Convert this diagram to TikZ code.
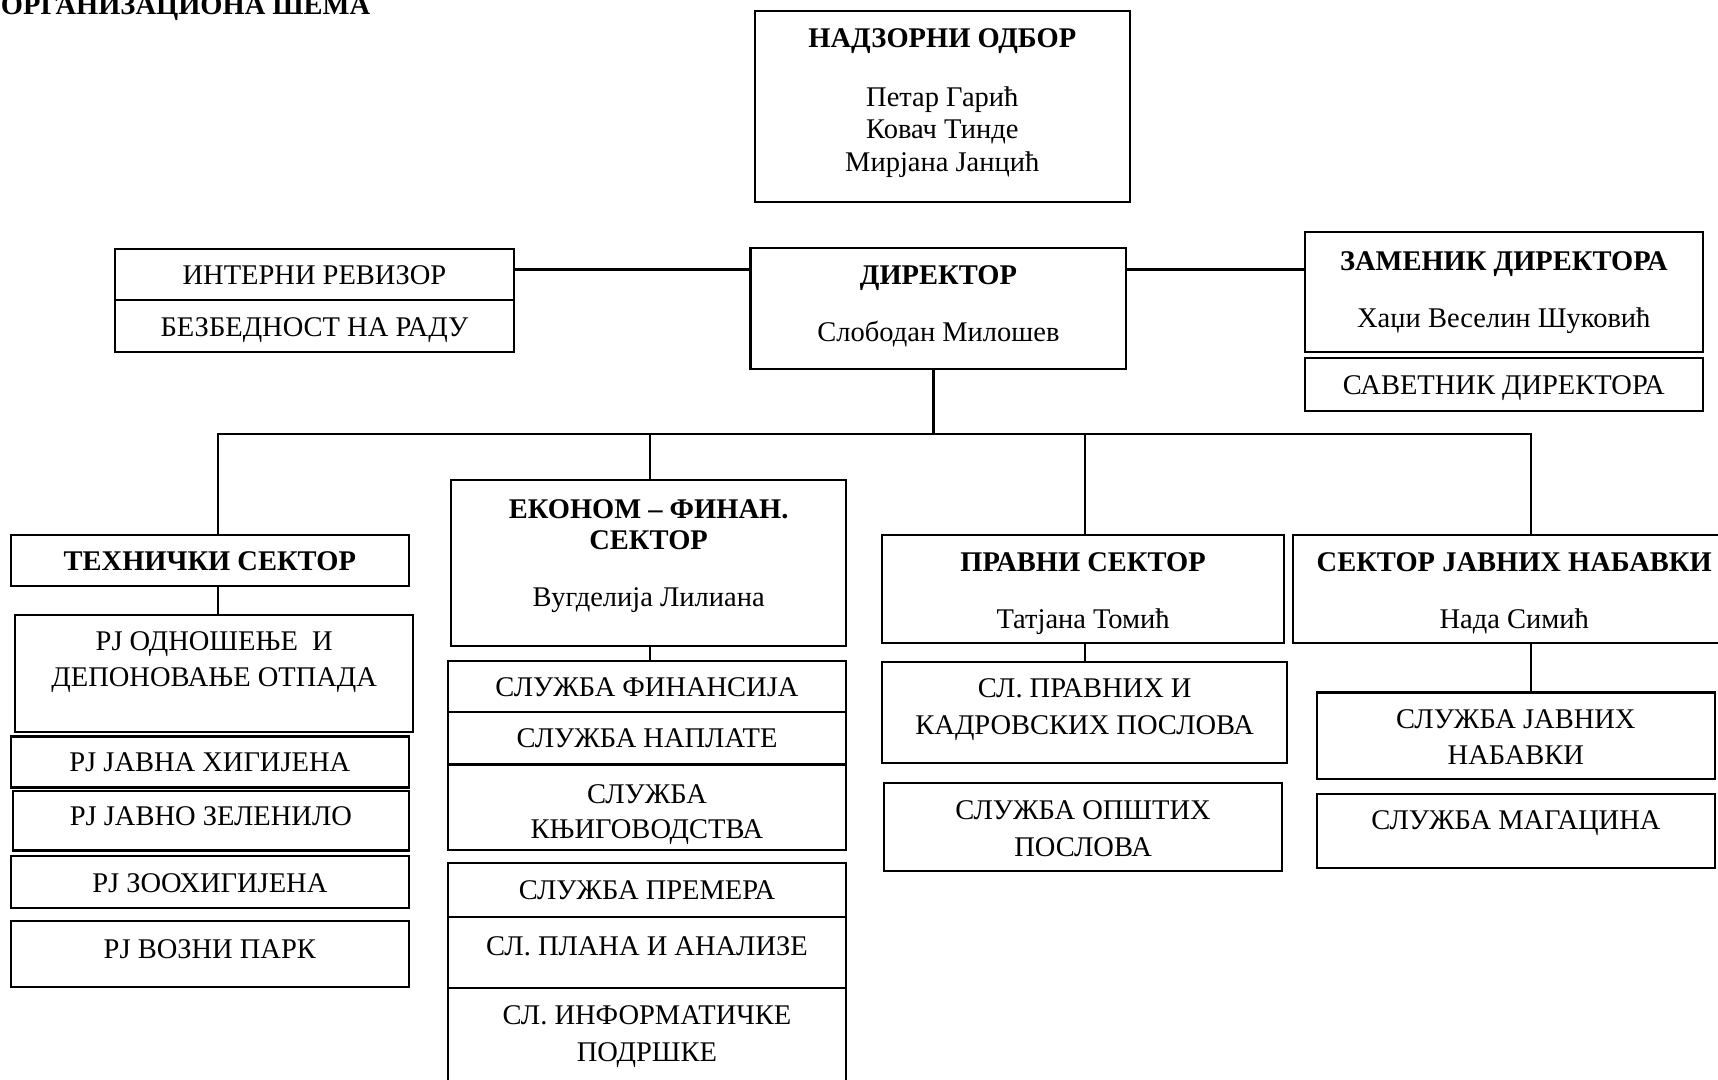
\documentclass[tikz,border=0pt]{standalone}
\usepackage{fontspec}
\setmainfont{Liberation Serif}
\usepackage{tikz}
\tikzset{
         orgbox/.style=
          {
           draw,
           line width=1.1pt,
           inner sep=0pt,
           outer sep=0pt,
           minimum width=7.26cm
          },
         orgtext/.style=
          {
           anchor=base,
           inner sep=0pt,
           font=\fontsize{14.8}{17}\selectfont
          },
         orghead/.style=
          {
           orgtext,
           font=\fontsize{14.8}{17}\selectfont\bfseries
          },
         link/.style={line width=1.1pt}
        }

\begin{document}
\begin{tikzpicture}

\useasboundingbox(0,0)rectangle(31.36,19.7);
\clip(0,0)rectangle(31.36,19.7);
%title
\node[orghead,anchor=base west](title)at(.01,19.43){ОРГАНИЗАЦИОНА ШЕМА};
%supervisory board
\node[orgbox,minimum width=6.84cm,minimum height=3.48cm](nad)at(17.2,17.76){};
\node[orghead](nadT)at(17.2,18.83){НАДЗОРНИ ОДБОР};
\node[orgtext](nad1)at(17.2,17.76){Петар Гарић};
\node[orgtext](nad2)at(17.2,17.17){Ковач Тинде};
\node[orgtext](nad3)at(17.2,16.56){Мирјана Јанцић};
%director
\node[orgbox,minimum width=6.86cm,minimum height=2.22cm](dir)at(17.13,14.07){};
\node[orghead](dirT)at(17.13,14.5){ДИРЕКТОР};
\node[orgtext](dir1)at(17.13,13.46){Слободан Милошев};
%auditor
\node[orgbox,minimum width=7.28cm,minimum height=.94cm](int)at(5.74,14.69){};
\node[orgtext](intT)at(5.74,14.51){ИНТЕРНИ РЕВИЗОР};
\node[orgbox,minimum width=7.28cm,minimum height=.94cm](bez)at(5.74,13.75){};
\node[orgtext](bezT)at(5.74,13.56){БЕЗБЕДНОСТ НА РАДУ};
%deputy
\node[orgbox,minimum height=2.18cm](zam)at(27.45,14.37){};
\node[orghead](zamT)at(27.45,14.76){ЗАМЕНИК ДИРЕКТОРА};
\node[orgtext](zam1)at(27.45,13.72){Хаџи Веселин Шуковић};
\node[orgbox,minimum height=.96cm](sav)at(27.45,12.68){};
\node[orgtext](savT)at(27.45,12.5){САВЕТНИК ДИРЕКТОРА};
%technical sector
\node[orgbox,minimum height=.94cm](teh)at(3.83,9.47){};
\node[orghead](tehT)at(3.83,9.28){ТЕХНИЧКИ СЕКТОР};
\node[orgbox,minimum width=7.27cm,minimum height=2.13cm](odn)at(3.91,7.41){};
\node[orgtext](odn1)at(3.91,7.82){РЈ ОДНОШЕЊЕ~ И};
\node[orgtext](odn2)at(3.91,7.16){ДЕПОНОВАЊЕ ОТПАДА};
\node[orgbox,minimum height=.93cm](jhig)at(3.83,5.79){};
\node[orgtext](jhigT)at(3.83,5.61){РЈ ЈАВНА ХИГИЈЕНА};
\node[orgbox,minimum width=7.22cm,minimum height=1.09cm](zel)at(3.85,4.72){};
\node[orgtext](zelT)at(3.85,4.63){РЈ ЈАВНО ЗЕЛЕНИЛО};
\node[orgbox,minimum height=.95cm](zoo)at(3.83,3.6){};
\node[orgtext](zooT)at(3.83,3.41){РЈ ЗООХИГИЈЕНА};
\node[orgbox,minimum height=1.21cm](vp)at(3.83,2.29){};
\node[orgtext](vpT)at(3.83,2.21){РЈ ВОЗНИ ПАРК};
%economy and finance sector
\node[orgbox,minimum width=7.21cm,minimum height=3.04cm](eko)at(11.84,9.42){};
\node[orghead](eko1)at(11.84,10.24){ЕКОНОМ – ФИНАН.};
\node[orghead](eko2)at(11.84,9.67){СЕКТОР};
\node[orgtext](eko3)at(11.84,8.63){Вугделија Лилиана};
\node[orgbox,minimum height=.94cm](fin)at(11.81,7.17){};
\node[orgtext](finT)at(11.81,6.99){СЛУЖБА ФИНАНСИЈА};
\node[orgbox,minimum height=.95cm](nap)at(11.81,6.23){};
\node[orgtext](napT)at(11.81,6.05){СЛУЖБА НАПЛАТЕ};
\node[orgbox,minimum height=1.56cm](knj)at(11.81,4.96){};
\node[orgtext](knj1)at(11.81,5.04){СЛУЖБА};
\node[orgtext](knj2)at(11.81,4.4){КЊИГОВОДСТВА};
\node[orgbox,minimum height=.98cm](pre)at(11.81,3.45){};
\node[orgtext](preT)at(11.81,3.28){СЛУЖБА ПРЕМЕРА};
\node[orgbox,minimum height=1.3cm](pla)at(11.81,2.31){};
\node[orgtext](plaT)at(11.81,2.26){СЛ. ПЛАНА И АНАЛИЗЕ};
\node[orgbox,minimum height=1.96cm](inf)at(11.81,.68){};
\node[orgtext](inf1)at(11.81,.99){СЛ. ИНФОРМАТИЧКЕ};
\node[orgtext](inf2)at(11.81,.33){ПОДРШКЕ};
%legal sector
\node[orgbox,minimum width=7.34cm,minimum height=1.98cm](pra)at(19.77,8.95){};
\node[orghead](praT)at(19.77,9.27){ПРАВНИ СЕКТОР};
\node[orgtext](pra1)at(19.77,8.22){Татјана Томић};
\node[orgbox,minimum width=7.4cm,minimum height=1.84cm](slp)at(19.8,6.7){};
\node[orgtext](slp1)at(19.8,6.96){СЛ. ПРАВНИХ И};
\node[orgtext](slp2)at(19.8,6.3){КАДРОВСКИХ ПОСЛОВА};
\node[orgbox,minimum height=1.6cm](ops)at(19.77,4.6){};
\node[orgtext](ops1)at(19.77,4.74){СЛУЖБА ОПШТИХ};
\node[orgtext](ops2)at(19.77,4.07){ПОСЛОВА};
%public procurement sector
\node[orgbox,minimum width=8.07cm,minimum height=1.98cm](sjn)at(27.64,8.95){};
\node[orghead](sjnT)at(27.64,9.27){СЕКТОР ЈАВНИХ НАБАВКИ};
\node[orgtext](sjn1)at(27.64,8.22){Нада Симић};
\node[orgbox,minimum height=1.58cm](sjb)at(27.67,6.27){};
\node[orgtext](sjb1)at(27.67,6.4){СЛУЖБА ЈАВНИХ};
\node[orgtext](sjb2)at(27.67,5.75){НАБАВКИ};
\node[orgbox,minimum height=1.34cm](mag)at(27.67,4.53){};
\node[orgtext](magT)at(27.67,4.56){СЛУЖБА МАГАЦИНА};
%connectors
\coordinate(hl)at(0,14.78);
\coordinate(bus)at(17.04,11.78);
\coordinate(d1)at(3.98,11.78);
\coordinate(d2)at(11.86,11.78);
\coordinate(d3)at(19.81,11.78);
\coordinate(d4)at(27.94,11.78);
\draw[link](int.east|-hl)--(dir.west|-hl);
\draw[link](dir.east|-hl)--(zam.west|-hl);
\draw[link](dir.south-|bus)--(bus);
\draw[link](teh.north-|d1)--(d1)--(d4)--(sjn.north-|d4);
\draw[link](d2)--(eko.north-|d2);
\draw[link](d3)--(pra.north-|d3);
\draw[link](teh.south-|d1)--(odn.north-|d1);
\draw[link](eko.south-|d2)--(fin.north-|d2);
\draw[link](pra.south-|d3)--(slp.north-|d3);
\draw[link](sjn.south-|d4)--(sjb.north-|d4);

\end{tikzpicture}
\end{document}
